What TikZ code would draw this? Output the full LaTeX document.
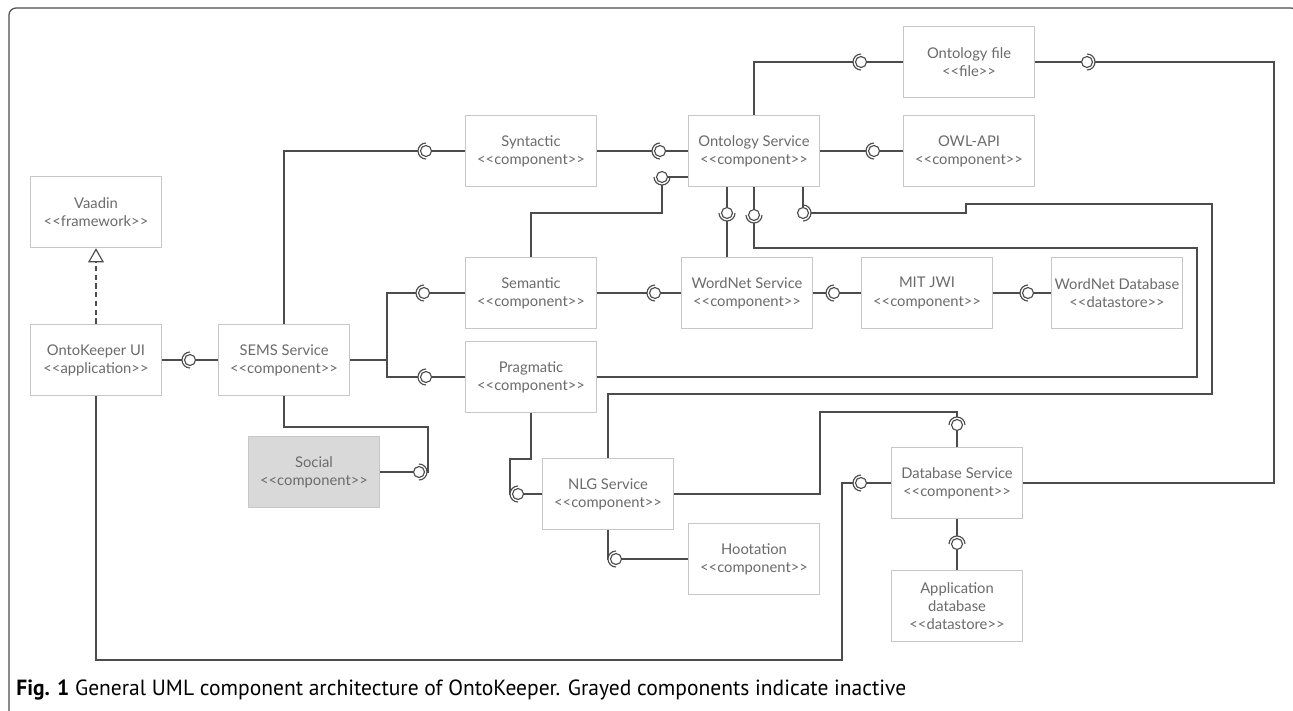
\documentclass[tikz,border=0pt]{standalone}
\usepackage{fontspec}
\setmainfont{Lato}
\newfontfamily\capfont{PT Sans}[FakeStretch=0.98]
\usetikzlibrary{arrows.meta,shadows}

\newcommand\stereo[1]{<{}<#1>{}>}

\tikzset{
  comp/.style={draw=black!22, line width=0.9pt, fill=white,
    minimum width=2.62cm, minimum height=1.42cm, inner sep=1pt,
    align=center, text=black!58, font=\fontsize{8.4}{10.3}\selectfont,
    drop shadow={shadow xshift=0.3pt, shadow yshift=-0.5pt, fill=black!20, opacity=0.5}},
  inactive/.style={comp, fill=black!15},
  wire/.style={draw=black!70, line width=0.65pt},
  pics/iface/.style={code={
      \fill[white] (-7.8,-1.8) rectangle (-4,1.8);
      \draw[wire] (0,8) arc (90:270:8);
      \draw[wire, fill=white] (0,0) circle (5.5);
  }},
}

\begin{document}
\begin{tikzpicture}[x=0.02cm, y=-0.02cm]
\useasboundingbox (0,0) rectangle (1293,710);
\clip (0,0) rectangle (1293,710);
\draw[black!70, line width=0.7pt, rounded corners=4pt] (9,720) -- (9,8) -- (1298,8) -- (1298,720);

% components
\node[comp] (vaadin) at (96,212) {Vaadin\\\stereo{framework}};
\node[comp] (ui) at (96,360) {OntoKeeper UI\\\stereo{application}};
\node[comp] (sems) at (284,360) {SEMS Service\\\stereo{component}};
\node[inactive] (social) at (314,472) {Social\\\stereo{component}};
\node[comp] (syntactic) at (531,151) {Syntactic\\\stereo{component}};
\node[comp] (semantic) at (531,293) {Semantic\\\stereo{component}};
\node[comp] (pragmatic) at (531,377) {Pragmatic\\\stereo{component}};
\node[comp] (ontsrv) at (754,151) {Ontology Service\\\stereo{component}};
\node[comp] (wnsrv) at (747,293) {WordNet Service\\\stereo{component}};
\node[comp] (nlg) at (608,494) {NLG Service\\\stereo{component}};
\node[comp] (hoot) at (754,559) {Hootation\\\stereo{component}};
\node[comp] (ontfile) at (969,62) {Ontology file\\\stereo{file}};
\node[comp] (owlapi) at (969,151) {OWL-API\\\stereo{component}};
\node[comp] (jwi) at (927,293) {MIT JWI\\\stereo{component}};
\node[comp] (wndb) at (1117,293) {WordNet Database\\\stereo{datastore}};
\node[comp] (dbsrv) at (957,483) {Database Service\\\stereo{component}};
\node[comp] (appdb) at (957,606) {Application\\database\\\stereo{datastore}};

% joints
\coordinate (bsplit) at (387,360);
\coordinate (jsem) at (662,177);
\coordinate (jwn) at (727,213);
\coordinate (jprag) at (754,215);
\coordinate (jnlg) at (803,213);

% connectors
\draw[wire, dashed, dash pattern=on 3pt off 2pt, -{Triangle[open, length=8pt, width=9pt]}] (ui) -- (vaadin);
\draw[wire] (ui) -- (sems);
\draw[wire] (sems.north) |- (syntactic.west);
\draw[wire] (syntactic) -- (ontsrv);
\draw[wire] (ontsrv.west |- jsem) -- (jsem) -- ++(0,36) -| (semantic.north);
\draw[wire] (ontsrv.south -| jwn) -- (wnsrv.north -| jwn);
\draw[wire] (ontsrv.south) |- (1197,248) |- (pragmatic.east);
\draw[wire] (ontsrv.south -| jnlg) -- (jnlg) -- (966,213) -- (966,204) -| (1212,394) -| (nlg.north);
\draw[wire] (sems.east) -- (bsplit) |- (semantic.west);
\draw[wire] (bsplit) |- (pragmatic.west);
\draw[wire] (sems.south) |- (428,427) |- (social.east);
\draw[wire] (semantic) -- (wnsrv);
\draw[wire] (wnsrv) -- (jwi);
\draw[wire] (jwi) -- (wndb);
\draw[wire] (ontsrv) -- (owlapi);
\draw[wire] (ontsrv.north) |- (ontfile.west);
\draw[wire] (ontfile.east) -| (1274,483) -- (dbsrv.east);
\draw[wire] (pragmatic.south) |- (510,459) |- (nlg.west);
\draw[wire] (nlg.south) |- (hoot.west);
\draw[wire] (nlg.east) -| (820,412) -| (dbsrv.north);
\draw[wire] (dbsrv) -- (appdb);
\draw[wire] (ui.south) |- (842,660) |- (dbsrv.west);

% ball and socket symbols
\foreach \x/\y/\r in {190/360/0, 426/151/0, 660/151/0, 662/177/90, 727/213/90,
    754/215/90, 803/213/180, 424/293/0, 426/377/0, 419/472/180, 655/293/0,
    834/293/0, 1028/293/0, 874/151/0, 861/62/0, 1087/62/180, 518/494/0,
    616/559/0, 957/425/-90, 957/544/-90, 861/483/0}
  \pic[rotate=\r] at (\x,\y) {iface};

% caption
\node[anchor=base west, inner sep=0pt, font=\capfont\fontsize{12.5}{14}\selectfont] (caption) at (16,695)
  {\textbf{Fig. 1} General UML component architecture of OntoKeeper. Grayed components indicate inactive};
\end{tikzpicture}
\end{document}
